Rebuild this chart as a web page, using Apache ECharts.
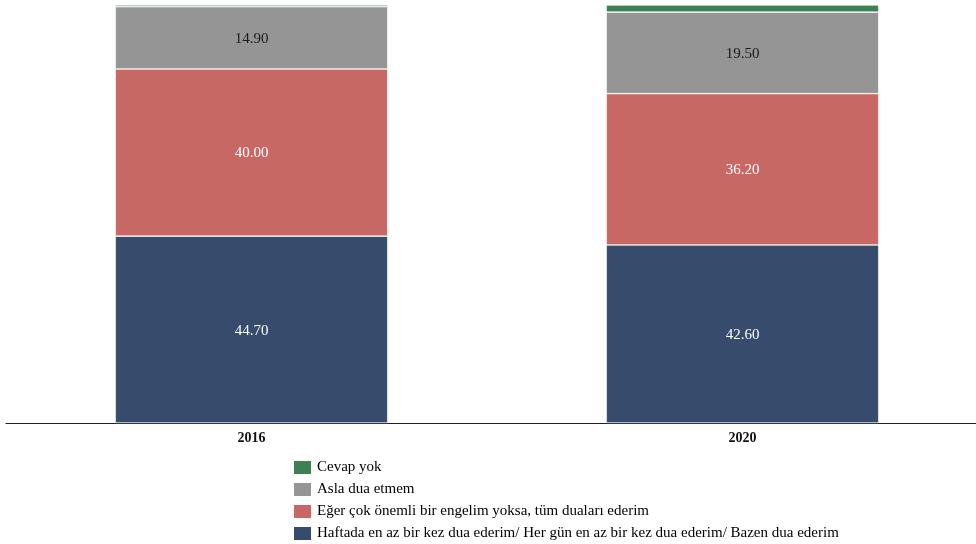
<!DOCTYPE html>
<html>
<head>
<meta charset="utf-8">
<script src="https://cdn.jsdelivr.net/npm/echarts@6/dist/echarts.min.js"></script>
<style>
html,body{margin:0;padding:0;background:#fff;}
#chart{width:976px;height:544px;}
</style>
</head>
<body>
<div id="chart"></div>
<script>
const years = ["2016", "2020"];

const haftada = [44.7, 42.6];
const eger = [40.0, 36.2];
const asla = [14.9, 19.5];
const cevapYok = [0.4, 1.7];

const names = [
    "Haftada en az bir kez dua ederim/ Her gün en az bir kez dua ederim/ Bazen dua ederim",
    "Eğer çok önemli bir engelim yoksa, tüm duaları ederim",
    "Asla dua etmem",
    "Cevap yok"
];

const colors = ["#374c6c", "#c76864", "#959595", "#3c8054"];
const labelColors = ["#ffffff", "#ffffff", "#1a1a1a", "#1a1a1a"];

const FONT = "'Liberation Serif', 'DejaVu Serif', serif";

const chart = echarts.init(document.getElementById("chart"));

const allData = [haftada, eger, asla, cevapYok];

const series = allData.map((d, i) => ({
    name: names[i],
    type: "bar",
    stack: "total",
    barWidth: "55.5%",
    data: d,
    itemStyle: {
        color: colors[i],
        borderColor: "#ffffff",
        borderWidth: 0.6
    },
    label: {
        show: i < 3,
        position: "inside",
        color: labelColors[i],
        fontFamily: FONT,
        fontSize: 15,
        offset: [0, 1],
        formatter: p => p.value.toFixed(2)
    }
}));

chart.setOption({
    animation: false,
    textStyle: { fontFamily: FONT },
    grid: {
        left: 6,
        width: 982,
        top: 5,
        bottom: 121,
        outerBoundsMode: "none",
        containLabel: false
    },
    legend: {
        orient: "vertical",
        left: 287,
        top: 454,
        height: 90,
        itemWidth: 19,
        itemHeight: 15,
        itemGap: 5,
        icon: "rect",
        data: [names[3], names[2], names[1], names[0]],
        textStyle: {
            fontFamily: FONT,
            fontSize: 15,
            color: "#000"
        }
    },
    xAxis: {
        type: "category",
        data: years,
        axisLine: { lineStyle: { color: "#222", width: 1.2 } },
        axisTick: { show: false },
        axisLabel: {
            fontFamily: FONT,
            fontWeight: "bold",
            fontSize: 14,
            color: "#111",
            margin: 8
        }
    },
    yAxis: {
        type: "value",
        min: 0,
        max: 100,
        show: false
    },
    series: series
});
</script>
</body>
</html>
